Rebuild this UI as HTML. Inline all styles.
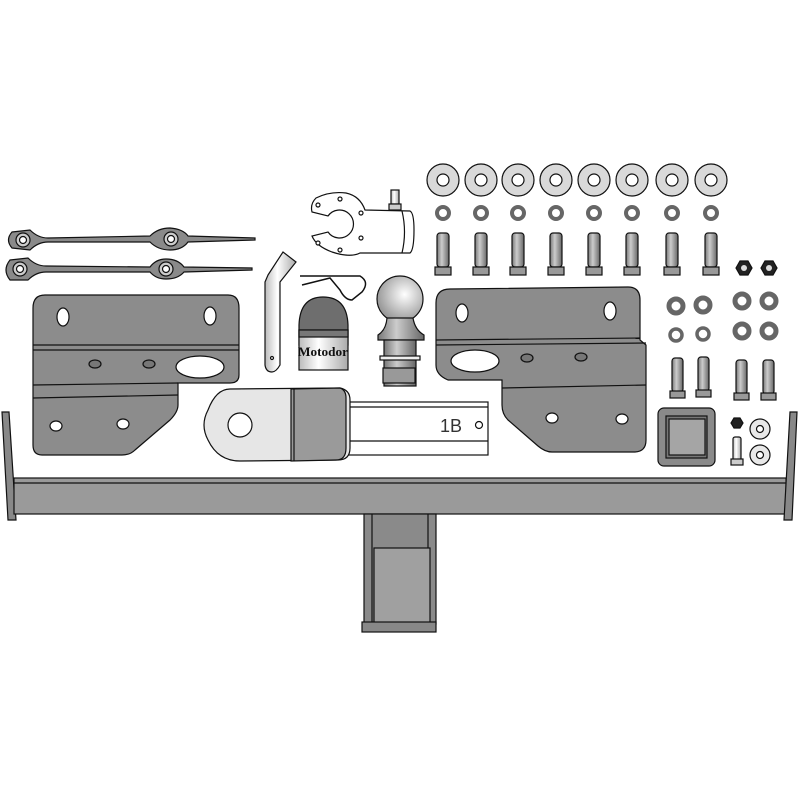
<!DOCTYPE html>
<html><head><meta charset="utf-8"><style>
html,body{margin:0;padding:0;background:#fff;width:800px;height:800px;overflow:hidden}
svg{display:block}
</style></head><body>
<svg width="800" height="800" viewBox="0 0 800 800" xmlns="http://www.w3.org/2000/svg" stroke="#111" stroke-width="1.2">
<defs>
<linearGradient id="cyl" x1="0" x2="1" y1="0" y2="0"><stop offset="0" stop-color="#777"/><stop offset="0.4" stop-color="#ccc"/><stop offset="1" stop-color="#666"/></linearGradient>
<linearGradient id="cylw" x1="0" x2="1"><stop offset="0" stop-color="#bbb"/><stop offset="0.4" stop-color="#fff"/><stop offset="1" stop-color="#aaa"/></linearGradient>
<radialGradient id="ball" cx="0.6" cy="0.4" r="0.6"><stop offset="0" stop-color="#fff"/><stop offset="1" stop-color="#999"/></radialGradient>
</defs>

<!-- crossbar -->
<path d="M2 412 L9 412 L16 520 L8 520 Z" fill="#888"/>
<rect x="14" y="478" width="772" height="36" fill="#9a9a9a"/>
<line x1="14" y1="483" x2="786" y2="483"/>
<path d="M790 412 L797 412 L792 520 L784 520 Z" fill="#888"/>
<!-- center receiver -->
<rect x="364" y="514" width="72" height="110" fill="#8a8a8a"/>
<rect x="374" y="548" width="56" height="76" fill="#a0a0a0"/>
<line x1="372" y1="514" x2="372" y2="624"/><line x1="428" y1="514" x2="428" y2="548"/>
<rect x="362" y="622" width="74" height="10" fill="#888"/>

<!-- left bracket -->
<path d="M45 295 L228 295 Q239 295 239 308 L239 375 Q239 383 230 383 L178 383 L178 405 Q178 412 170 420 L135 450 Q130 455 122 455 L42 455 Q33 455 33 445 L33 308 Q33 295 45 295 Z" fill="#8c8c8c"/>
<line x1="33" y1="345" x2="239" y2="345"/><line x1="33" y1="350" x2="239" y2="350"/>
<line x1="33" y1="385" x2="178" y2="383"/><line x1="33" y1="398" x2="178" y2="395"/>
<ellipse cx="63" cy="317" rx="6" ry="9" fill="#fff"/><ellipse cx="210" cy="316" rx="6" ry="9" fill="#fff"/>
<ellipse cx="95" cy="364" rx="6" ry="4" fill="#777"/><ellipse cx="149" cy="364" rx="6" ry="4" fill="#777"/>
<ellipse cx="200" cy="367" rx="24" ry="11" fill="#fff"/>
<ellipse cx="56" cy="426" rx="6" ry="5" fill="#fff"/><ellipse cx="123" cy="424" rx="6" ry="5" fill="#fff"/>

<!-- right bracket -->
<path d="M450 289 L628 287 Q640 287 640 300 L640 340 L646 345 L646 440 Q646 452 634 452 L552 452 Q545 452 538 446 L508 420 Q502 414 502 405 L502 380 L448 380 Q436 375 436 365 L436 303 Q436 289 450 289 Z" fill="#8c8c8c"/>
<line x1="436" y1="340" x2="640" y2="338"/><line x1="436" y1="345" x2="646" y2="343"/>
<line x1="502" y1="388" x2="646" y2="385"/>
<ellipse cx="462" cy="313" rx="6" ry="9" fill="#fff"/><ellipse cx="610" cy="311" rx="6" ry="9" fill="#fff"/>
<ellipse cx="475" cy="361" rx="24" ry="11" fill="#fff"/>
<ellipse cx="527" cy="358" rx="6" ry="4" fill="#777"/><ellipse cx="581" cy="357" rx="6" ry="4" fill="#777"/>
<ellipse cx="552" cy="418" rx="6" ry="5" fill="#fff"/><ellipse cx="622" cy="419" rx="6" ry="5" fill="#fff"/>

<!-- drawbar -->
<rect x="345" y="402" width="143" height="53" fill="#fff"/>
<line x1="350" y1="407" x2="488" y2="407"/><line x1="350" y1="441" x2="488" y2="441"/>
<text x="440" y="432" font-family="Liberation Sans, sans-serif" font-size="18" fill="#333" stroke="none">1B</text>
<circle cx="479" cy="425" r="3.5" fill="#fff"/>
<path d="M230 389 L340 388 Q350 390 350 400 L350 448 Q350 460 338 460 L240 461 Q218 461 208 440 Q200 425 208 410 Q216 389 230 389 Z" fill="#e6e6e6"/>
<path d="M291 389 L340 388 Q346 390 346 398 L346 448 Q346 460 336 460 L291 461 Z" fill="#9a9a9a"/>
<line x1="294" y1="389" x2="294" y2="461"/>
<circle cx="240" cy="425" r="12" fill="#fff"/>

<!-- socket cover -->
<path d="M299 345 L299 325 Q300 297 323 297 Q347 297 348 325 L348 345 Z" fill="#6e6e6e"/>
<rect x="299" y="330" width="49" height="40" fill="url(#cylw)"/>
<rect x="299" y="330" width="49" height="7" fill="#777"/>
<text x="298" y="356" font-family="Liberation Serif, serif" font-weight="bold" font-size="13" fill="#111" stroke="none" textLength="50" lengthAdjust="spacingAndGlyphs">Motodor</text>

<!-- pin -->
<path d="M268 275 L283 252 L296 262 L280 282 L280 365 Q276 372 272 372 Q266 372 265 365 L265 282 Z" fill="url(#cylw)"/>
<circle cx="272" cy="358" r="1.5" fill="#fff"/>
<!-- r clip -->
<path d="M300 276 L360 276 Q370 282 362 292 L352 300 Q345 300 340 290 L330 278 L302 285" fill="none" stroke-width="1.5"/>

<!-- ball -->
<circle cx="400" cy="299" r="23" fill="url(#ball)"/>
<path d="M387 318 L413 318 Q415 330 424 335 L424 340 L378 340 L378 335 Q386 330 387 318 Z" fill="url(#cyl)"/>
<rect x="384" y="340" width="32" height="46" fill="url(#cyl)"/>
<rect x="380" y="356" width="40" height="4" fill="#eee"/>
<rect x="383" y="368" width="32" height="15" fill="#999"/>

<!-- socket plate -->
<path d="M316 198 Q330 191 346 193 Q360 196 365 210 L410 211 Q414 213 414 230 Q414 250 410 253 L360 253 Q350 258 332 252 Q316 246 312 236 L328 232 A14 14 0 1 0 328 216 L312 212 Q310 204 316 198 Z" fill="#fff"/>
<path d="M402 211 Q407 232 402 253" fill="none"/>
<circle cx="340" cy="199" r="2" fill="#fff"/><circle cx="318" cy="205" r="2" fill="#fff"/><circle cx="318" cy="243" r="2" fill="#fff"/><circle cx="340" cy="250" r="2" fill="#fff"/><circle cx="361" cy="213" r="2" fill="#fff"/><circle cx="361" cy="238" r="2" fill="#fff"/>
<rect x="391" y="190" width="8" height="14" fill="url(#cylw)"/><rect x="389" y="204" width="12" height="6" fill="#ccc"/>

<!-- straps -->
<g fill="#8a8a8a">
<path d="M12 232 L30 230 Q38 238 48 238 L150 236 Q158 228 170 228 Q183 229 188 236 L255 238 L255 240 L188 242 Q182 250 170 250 Q158 250 150 242 L48 242 Q38 242 30 250 L12 248 Q5 240 12 232 Z"/>
<path d="M10 260 L28 258 Q36 266 46 266 L150 267 Q156 259 166 259 Q178 259 184 267 L252 268 L252 270 L184 272 Q178 279 166 279 Q156 279 150 272 L46 272 Q36 272 28 280 L10 280 Q2 270 10 260 Z"/>
</g>
<g fill="#ccc"><circle cx="23" cy="240" r="7"/><circle cx="171" cy="239" r="7"/><circle cx="20" cy="269" r="7"/><circle cx="166" cy="269" r="7"/></g>
<g fill="#fff"><circle cx="23" cy="240" r="3.5"/><circle cx="171" cy="239" r="3.5"/><circle cx="20" cy="269" r="3.5"/><circle cx="166" cy="269" r="3.5"/></g>

<!-- washers row -->
<g fill="#d9d9d9">
<circle cx="443" cy="180" r="16"/><circle cx="481" cy="180" r="16"/><circle cx="518" cy="180" r="16"/><circle cx="556" cy="180" r="16"/><circle cx="594" cy="180" r="16"/><circle cx="632" cy="180" r="16"/><circle cx="672" cy="180" r="16"/><circle cx="711" cy="180" r="16"/>
</g>
<g fill="#fff">
<circle cx="443" cy="180" r="6"/><circle cx="481" cy="180" r="6"/><circle cx="518" cy="180" r="6"/><circle cx="556" cy="180" r="6"/><circle cx="594" cy="180" r="6"/><circle cx="632" cy="180" r="6"/><circle cx="672" cy="180" r="6"/><circle cx="711" cy="180" r="6"/>
</g>
<g fill="none" stroke="#666" stroke-width="4">
<circle cx="443" cy="213" r="6"/><circle cx="481" cy="213" r="6"/><circle cx="518" cy="213" r="6"/><circle cx="556" cy="213" r="6"/><circle cx="594" cy="213" r="6"/><circle cx="632" cy="213" r="6"/><circle cx="672" cy="213" r="6"/><circle cx="711" cy="213" r="6"/>
</g>
<!-- bolts row -->
<g fill="url(#cyl)">
<rect x="437" y="233" width="12" height="34" rx="3"/><rect x="475" y="233" width="12" height="34" rx="3"/><rect x="512" y="233" width="12" height="34" rx="3"/><rect x="550" y="233" width="12" height="34" rx="3"/><rect x="588" y="233" width="12" height="34" rx="3"/><rect x="626" y="233" width="12" height="34" rx="3"/><rect x="666" y="233" width="12" height="34" rx="3"/><rect x="705" y="233" width="12" height="34" rx="3"/>
</g>
<g fill="#999">
<rect x="435" y="267" width="16" height="8"/><rect x="473" y="267" width="16" height="8"/><rect x="510" y="267" width="16" height="8"/><rect x="548" y="267" width="16" height="8"/><rect x="586" y="267" width="16" height="8"/><rect x="624" y="267" width="16" height="8"/><rect x="664" y="267" width="16" height="8"/><rect x="703" y="267" width="16" height="8"/>
</g>
<!-- nuts -->
<g fill="#222"><polygon points="736,268 740,261 748,261 752,268 748,275 740,275"/><polygon points="761,268 765,261 773,261 777,268 773,275 765,275"/></g>
<g fill="#ddd" stroke="none"><circle cx="744" cy="268" r="3"/><circle cx="769" cy="268" r="3"/></g>

<!-- small washers -->
<g fill="none" stroke="#666" stroke-width="5">
<circle cx="676" cy="306" r="7"/><circle cx="703" cy="305" r="7"/><circle cx="742" cy="301" r="7"/><circle cx="769" cy="301" r="7"/>
<circle cx="742" cy="331" r="7"/><circle cx="769" cy="331" r="7"/>
</g>
<g fill="none" stroke="#666" stroke-width="3.5"><circle cx="676" cy="335" r="6"/><circle cx="703" cy="334" r="6"/></g>
<g fill="url(#cyl)">
<rect x="672" y="358" width="11" height="34" rx="3"/><rect x="698" y="357" width="11" height="34" rx="3"/><rect x="736" y="360" width="11" height="34" rx="3"/><rect x="763" y="360" width="11" height="34" rx="3"/>
</g>
<g fill="#999"><rect x="670" y="391" width="15" height="7"/><rect x="696" y="390" width="15" height="7"/><rect x="734" y="393" width="15" height="7"/><rect x="761" y="393" width="15" height="7"/></g>

<!-- square part -->
<rect x="658" y="408" width="57" height="58" rx="6" fill="#8a8a8a"/>
<rect x="666" y="416" width="41" height="42" fill="#777"/>
<rect x="669" y="419" width="36" height="36" fill="#a5a5a5"/>
<!-- small items -->
<polygon points="731,423 734,418 740,418 743,423 740,428 734,428" fill="#222"/>
<rect x="733" y="437" width="8" height="24" rx="2" fill="url(#cylw)"/><rect x="731" y="459" width="12" height="6" fill="#ccc"/>
<circle cx="760" cy="429" r="10" fill="#e8e8e8"/><circle cx="760" cy="429" r="3.5" fill="#fff"/>
<circle cx="760" cy="455" r="10" fill="#e8e8e8"/><circle cx="760" cy="455" r="3.5" fill="#fff"/>
</svg>
</body></html>
